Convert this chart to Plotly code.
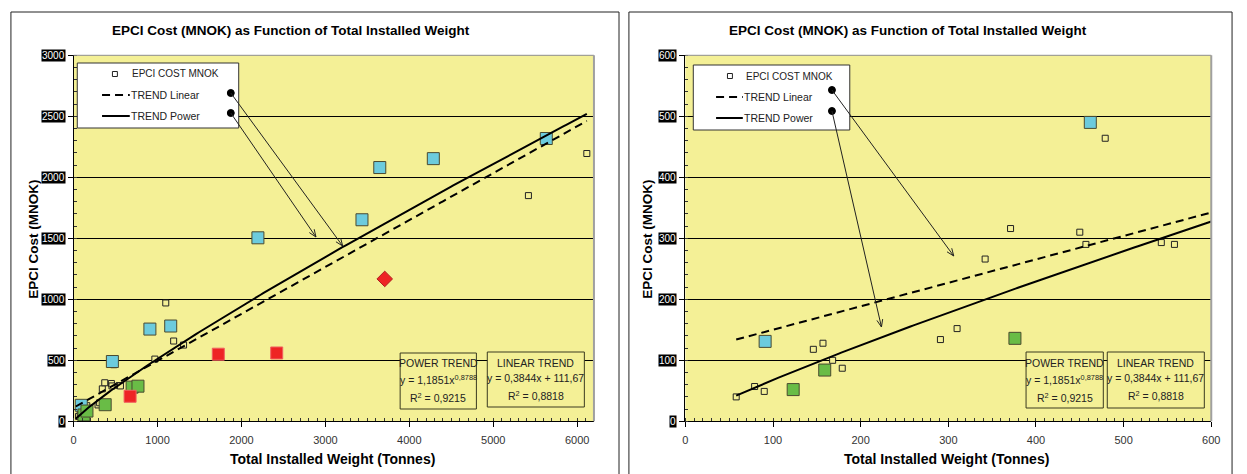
import numpy as np
import plotly.graph_objects as go

W, H = 1247, 474
FONT = "Liberation Sans, Arial, sans-serif"
BG_YELLOW = "#F4F096"

# ---- data (Total installed weight [tonnes], EPCI cost [MNOK]) ----
cost_x = [58, 79, 90, 146, 157, 168, 179, 291, 310, 342, 371, 450, 457, 479, 543, 558,
          968, 1098, 1192, 1310, 5419, 6115]
cost_y = [40, 57, 49, 118, 128, 100, 87, 134, 152, 266, 316, 310, 290, 464, 293, 290,
          510, 970, 658, 625, 1850, 2195]
cyan_x = [91, 462, 909, 1157, 2196, 3436, 3648, 4286, 5632]
cyan_y = [131, 490, 756, 781, 1504, 1652, 2080, 2153, 2318]
green_x = [123, 159, 376, 697, 767]
green_y = [52, 84, 136, 280, 288]
red_x = [673, 1724, 2420]
red_y = [205, 550, 560]
diamond_x = [3707]
diamond_y = [1167]

# trend coefficients
LIN_A, LIN_B = 0.3844, 111.67
POW_A, POW_B = 1.1851, 0.8788
POW_R2, LIN_R2 = 0.9215, 0.8818

left_ticks_x = [0, 1000, 2000, 3000, 4000, 5000, 6000]
left_ticks_y = [0, 500, 1000, 1500, 2000, 2500, 3000]
right_ticks_x = [0, 100, 200, 300, 400, 500, 600]
right_ticks_y = [0, 100, 200, 300, 400, 500, 600]

TITLE = "EPCI Cost (MNOK) as Function of Total Installed Weight"
XTITLE = "Total Installed Weight (Tonnes)"
YTITLE = "EPCI Cost (MNOK)"


def nok(v, d):
    return f"{v:.{d}f}".replace(".", ",")


def X(p):
    return p / W


def Y(p):
    return 1 - p / H


def label(x, y, text, size, color="#222", xanchor="center", angle=0, **kw):
    d = dict(x=X(x), y=Y(y), xref="paper", yref="paper", text=text, showarrow=False,
             xanchor=xanchor, yanchor="middle", textangle=angle, borderpad=0,
             font=dict(family=FONT, size=size, color=color))
    d.update(kw)
    return d


fig = go.Figure()

panels = [
    dict(xa="x", ya="y", xr=(25, 6115), xmax=6200, ymax=3000,
         dom=(71.3, 596.7), tx=left_ticks_x, ty=left_ticks_y, xminor=100, yminor=100,
         axis_px=71.3, ytitle_px=31, center=291, xtitle_c=333,
         legend=(75, 63, 238, 128), mk=(113, 74), txt=129, ln=(100, 128), ln_txt=128,
         dots=[(230, 93), (230, 113)], heads=[(343, 246), (316, 237)],
         pbox=(401, 353, 478, 409), lbox=(489, 352, 587, 407)),
    dict(xa="x2", ya="y2", xr=(58, 600), xmax=600, ymax=600,
         dom=(689, 1220), tx=right_ticks_x, ty=right_ticks_y, xminor=10, yminor=20,
         axis_px=689, ytitle_px=651, center=914, xtitle_c=953,
         legend=(697, 65, 855, 130), mk=(734, 76), txt=749, ln=(720, 747), ln_txt=747,
         dots=[(837, 90), (837, 111)], heads=[(960, 256), (887, 327)],
         pbox=(1033, 352, 1111, 408), lbox=(1115, 352, 1213, 408)),
]

shapes, annots = [], []

for i, p in enumerate(panels):
    xa, ya = p["xa"], p["ya"]
    sq_border = dict(color="#4a4a30", width=1)
    fig.add_trace(go.Scatter(x=cost_x, y=cost_y, mode="markers", xaxis=xa, yaxis=ya,
                             marker=dict(symbol="square", size=6, color=BG_YELLOW,
                                         line=dict(color="#222", width=1)),
                             showlegend=False))
    fig.add_trace(go.Scatter(x=cyan_x, y=cyan_y, mode="markers", xaxis=xa, yaxis=ya,
                             marker=dict(symbol="square", size=12, color="#6CCBDD", line=sq_border),
                             showlegend=False))
    fig.add_trace(go.Scatter(x=green_x, y=green_y, mode="markers", xaxis=xa, yaxis=ya,
                             marker=dict(symbol="square", size=12, color="#69BC46", line=sq_border),
                             showlegend=False))
    fig.add_trace(go.Scatter(x=red_x, y=red_y, mode="markers", xaxis=xa, yaxis=ya,
                             marker=dict(symbol="square", size=12, color="#EE2424",
                                         line=dict(color="#F06060", width=1)),
                             showlegend=False))
    fig.add_trace(go.Scatter(x=diamond_x, y=diamond_y, mode="markers", xaxis=xa, yaxis=ya,
                             marker=dict(symbol="diamond", size=12, color="#EE2424",
                                         line=dict(color="#B02020", width=1)),
                             showlegend=False))
    tx = np.linspace(p["xr"][0], p["xr"][1], 200)
    fig.add_trace(go.Scatter(x=tx, y=LIN_A * tx + LIN_B, mode="lines", xaxis=xa, yaxis=ya,
                             line=dict(color="black", width=2, dash="8px,5px"), showlegend=False))
    fig.add_trace(go.Scatter(x=tx, y=POW_A * tx ** POW_B, mode="lines", xaxis=xa, yaxis=ya,
                             line=dict(color="black", width=2), showlegend=False))

    ax_name = "xaxis" if i == 0 else "xaxis2"
    ay_name = "yaxis" if i == 0 else "yaxis2"
    fig.update_layout(**{
        ax_name: dict(domain=[X(p["dom"][0]), X(p["dom"][1])], anchor=ya,
                      range=[0, p["xmax"]], tickvals=p["tx"], showgrid=False, zeroline=False,
                      showline=True, linecolor="black", linewidth=1,
                      ticks="outside", ticklen=5, tickcolor="black",
                      ticklabelstandoff=3,
                      tickfont=dict(family=FONT, size=11, color="#333"),
                      minor=dict(dtick=p["xminor"], ticks="inside", ticklen=3, tickcolor="#333")),
        ay_name: dict(domain=[Y(421.3), Y(55.3)], anchor=xa,
                      range=[0, p["ymax"]], tickvals=p["ty"], showticklabels=False,
                      showgrid=True, gridcolor="black", gridwidth=1, zeroline=False,
                      showline=True, linecolor="black", linewidth=1,
                      ticks="outside", ticklen=5, tickcolor="black",
                      minor=dict(dtick=p["yminor"], ticks="inside", ticklen=3, tickcolor="#333")),
    })

    # plot-area frame on top and right
    shapes.append(dict(type="line", xref=f"{xa} domain", yref=f"{ya} domain", x0=0, x1=1, y0=1, y1=1,
                       line=dict(color="#8c8c8c", width=1)))
    shapes.append(dict(type="line", xref=f"{xa} domain", yref=f"{ya} domain", x0=1, x1=1, y0=0, y1=1,
                       line=dict(color="#a0a0a0", width=2)))

    # y tick labels (white on black)
    for v in p["ty"]:
        annots.append(dict(x=X(p["axis_px"] - 8), y=v, xref="paper", yref=ya, text=str(v),
                           showarrow=False, xanchor="right", yanchor="middle",
                           font=dict(family=FONT, size=10, color="white"),
                           bgcolor="black", borderpad=0))

    # titles
    annots.append(label(p["center"], 31, f"<b>{TITLE}</b>", 13.5, color="black"))
    annots.append(label(p["xtitle_c"], 459, f"<b>{XTITLE}</b>", 14, color="black"))
    annots.append(label(p["ytitle_px"], 239, f"<b>{YTITLE}</b>", 13.5, color="black", angle=-90))

    # legend box
    l0, t0, r0, b0 = p["legend"]
    shapes.append(dict(type="rect", xref="paper", yref="paper", x0=X(l0), x1=X(r0), y0=Y(b0), y1=Y(t0),
                       fillcolor="white", line=dict(color="#333", width=1), layer="above"))
    mx, my = p["mk"]
    shapes.append(dict(type="rect", xref="paper", yref="paper", x0=X(mx - 2.5), x1=X(mx + 2.5),
                       y0=Y(my + 2.5), y1=Y(my - 2.5), line=dict(color="#222", width=1),
                       fillcolor="white", layer="above"))
    annots.append(label(p["txt"], my, "EPCI COST MNOK", 10, xanchor="left"))
    lx0, lx1 = p["ln"]
    row_lin, row_pow = t0 + 32, t0 + 53
    shapes.append(dict(type="line", xref="paper", yref="paper", x0=X(lx0), x1=X(lx1), y0=Y(row_lin),
                       y1=Y(row_lin), line=dict(color="black", width=2, dash="8px,5px"), layer="above"))
    shapes.append(dict(type="line", xref="paper", yref="paper", x0=X(lx0), x1=X(lx1), y0=Y(row_pow),
                       y1=Y(row_pow), line=dict(color="black", width=2), layer="above"))
    annots.append(label(p["ln_txt"], row_lin, "TREND Linear", 10.5, xanchor="left"))
    annots.append(label(p["ln_txt"], row_pow, "TREND Power", 10.5, xanchor="left"))

    # pointer arrows from legend to trend lines
    for (dx, dy), (hx, hy) in zip(p["dots"], p["heads"]):
        shapes.append(dict(type="circle", xref="paper", yref="paper", x0=X(dx - 3.5), x1=X(dx + 3.5),
                           y0=Y(dy + 3.5), y1=Y(dy - 3.5), fillcolor="black",
                           line=dict(color="black", width=1), layer="above"))
        shapes.append(dict(type="line", xref="paper", yref="paper", x0=X(dx), y0=Y(dy),
                           x1=X(hx), y1=Y(hy), line=dict(color="#222", width=1), layer="above"))
        # arrowhead: short two-stroke chevron at the tip
        ang = np.arctan2(hy - dy, hx - dx)
        for s in (+1, -1):
            a = ang + np.pi - s * 0.38
            shapes.append(dict(type="line", xref="paper", yref="paper", x0=X(hx), y0=Y(hy),
                               x1=X(hx + 8 * np.cos(a)), y1=Y(hy + 8 * np.sin(a)),
                               line=dict(color="#222", width=1), layer="above"))

    # trend statistics boxes
    boxes = [
        (p["pbox"], ["POWER TREND", f"y = {nok(POW_A, 4)}x<sup>{nok(POW_B, 4)}</sup>",
                     f"R<sup>2</sup> = {nok(POW_R2, 4)}"], [363, 379, 397]),
        (p["lbox"], ["LINEAR TREND", f"y = {nok(LIN_A, 4)}x + {nok(LIN_B, 2)}",
                     f"R<sup>2</sup> = {nok(LIN_R2, 4)}"], [363, 378, 395]),
    ]
    for (bx0, by0, bx1, by1), lines, ys in boxes:
        shapes.append(dict(type="rect", xref="paper", yref="paper", x0=X(bx0), x1=X(bx1), y0=Y(by1),
                           y1=Y(by0), fillcolor=BG_YELLOW, line=dict(color="#3a3a20", width=1),
                           layer="above"))
        for t, yy in zip(lines, ys):
            annots.append(label((bx0 + bx1) / 2, yy, t, 10.5))

# outer panel frames
for l, r in [(8, 622), (632, 1241)]:
    shapes.append(dict(type="rect", xref="paper", yref="paper", x0=X(l), x1=X(r), y0=-0.05, y1=Y(12),
                       line=dict(color="#222", width=1), fillcolor="rgba(0,0,0,0)", layer="below"))

fig.update_layout(width=W, height=H, margin=dict(l=0, r=0, t=0, b=0),
                  paper_bgcolor="white", plot_bgcolor=BG_YELLOW,
                  shapes=shapes, annotations=annots, showlegend=False,
                  font=dict(family=FONT))

fig.write_html("out.html")
